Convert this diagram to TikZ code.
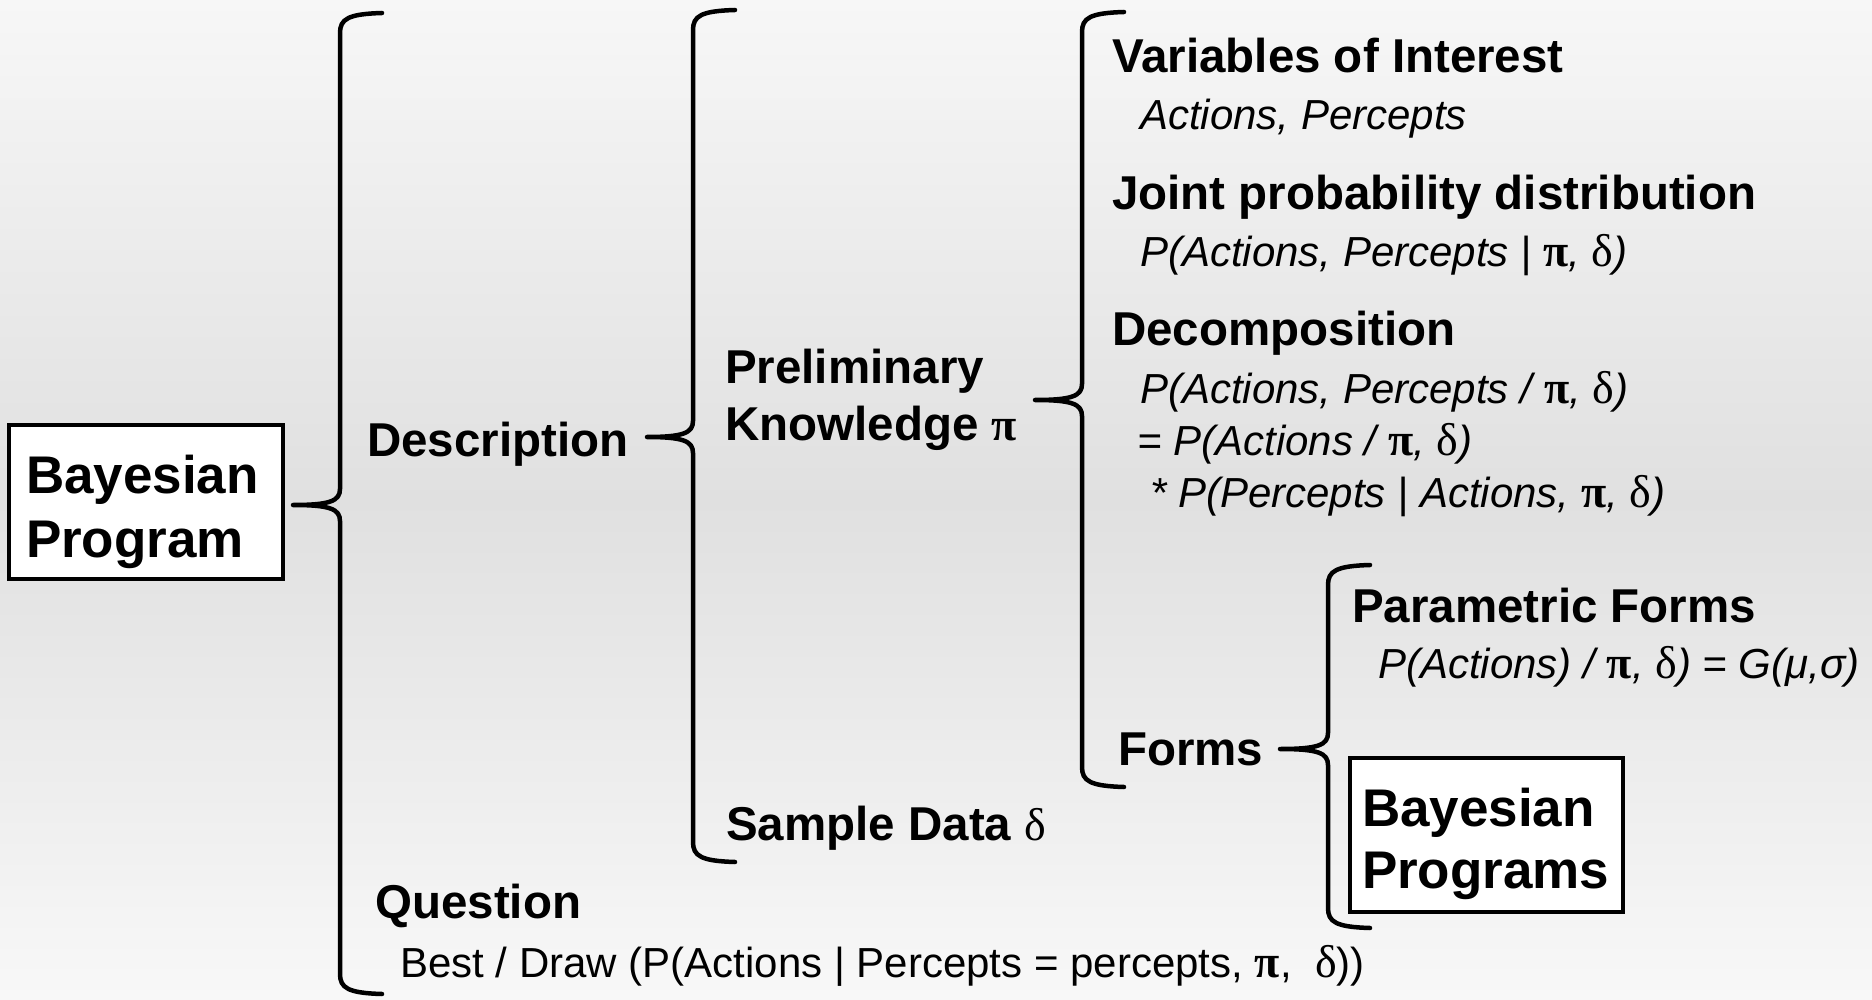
\documentclass[tikz,border=0pt]{standalone}
\usepackage{tikz}
\usepackage{fontspec}
\setmainfont{Liberation Sans}
\newfontfamily\greekserif{Liberation Serif}
\newcommand\grpi{{\greekserif\upshape\bfseries\fontsize{46}{52}\selectfont π}}
\newcommand\grdelta{{\greekserif\upshape\fontsize{46}{52}\selectfont δ}}
\definecolor{bgtop}{RGB}{247,247,247}
\definecolor{bgmid}{RGB}{224,224,224}
\definecolor{bgbot}{RGB}{248,248,248}
% #1 spine x, #2 top y, #3 bottom y, #4 tip x, #5 tip y, #6 name of the tip
\newcommand\curlybrace[6]{%
  \coordinate (#6) at (#4,#5);
  \draw[bracestroke] ({#1+42},#2) .. controls ({#1+8},{#2+1}) and (#1,{#2+6}) .. (#1,{#2+20})
    -- (#1,{#5-16}) .. controls (#1,{#5-4}) and ({#1-10},#5) .. (#6)
    .. controls ({#1-10},#5) and (#1,{#5+4}) .. (#1,{#5+16})
    -- (#1,{#3-20}) .. controls (#1,{#3-6}) and ({#1+8},{#3-1}) .. ({#1+42},#3);}
\begin{document}
\begin{tikzpicture}[x=1pt,y=-1pt,
  bracestroke/.style={line width=4.5pt, line cap=round, line join=round},
  heading/.style={font=\fontsize{47.5}{57}\selectfont\bfseries, anchor=base west, inner sep=0pt},
  formula/.style={font=\fontsize{42}{52}\selectfont\itshape, anchor=base west, inner sep=0pt},
  plaintext/.style={font=\fontsize{42}{52}\selectfont, anchor=base west, inner sep=0pt},
  progbox/.style={draw, line width=4.5pt, fill=white, align=left,
    minimum height=154pt, inner ysep=0pt}
]
% background
\shade[top color=bgtop, bottom color=bgbot, middle color=bgmid] (0,0) rectangle (1872,1000);
\useasboundingbox (0,0) rectangle (1872,1000);

% the program and its two parts
\node[progbox, text width=240pt, inner xsep=17pt, font=\fontsize{53}{64}\selectfont\bfseries]
  (bprog) at (146,502) {\rule{0pt}{61pt}Bayesian\\Program\rule[-15pt]{0pt}{15pt}};
\node[heading] (desc) at (367,456) {Description};
\node[heading] (quest) at (375,918) {Question};
\node[plaintext] (questf) at (400,977) {Best / Draw (P(Actions | Percepts = percepts, \grpi,\ \ \grdelta))};

% description
\node[heading, anchor=north west, align=left] (prelim) at (725,343)
  {\rule{0pt}{40pt}Preliminary\\Knowledge {\fontsize{52}{57}\selectfont\grpi}};
\node[heading] (sample) at (726,840) {Sample Data {\mdseries\grdelta}};

% preliminary knowledge
\node[heading] (vars) at (1112,73) {Variables of Interest};
\node[formula] (varsf) at (1140,130) {Actions, Percepts};
\node[heading] (joint) at (1112,210) {Joint probability distribution};
\node[formula] (jointf) at (1140,267) {P(Actions, Percepts | \grpi, \grdelta)};
\node[heading] (decomp) at (1112,345) {Decomposition};
\node[formula] (decompa) at (1140,403) {P(Actions, Percepts / \grpi, \grdelta)};
\node[formula] (decompb) at (1137,455) {= P(Actions / \grpi, \grdelta)};
\node[formula] (decompc) at (1150,507) {* P(Percepts | Actions, \grpi, \grdelta)};
\node[heading] (forms) at (1118,765) {Forms};

% forms
\node[heading] (param) at (1352,622) {Parametric Forms};
\node[formula] (paramf) at (1378,678) {P(Actions) / \grpi, \grdelta) = G(μ,σ)};
\node[progbox, text width=249pt, inner xsep=12pt, font=\fontsize{53}{62}\selectfont\bfseries]
  (bprogs) at (1486.5,835) {\rule{0pt}{59pt}Bayesian\\Programs\rule[-15pt]{0pt}{15pt}};

% braces
\curlybrace{340}{13}{994}{293}{505}{tipA}
\curlybrace{693}{10}{862}{647}{437}{tipB}
\curlybrace{1082}{12}{787}{1035}{400}{tipC}
\curlybrace{1328}{565}{928}{1280}{749}{tipD}
\end{tikzpicture}
\end{document}
